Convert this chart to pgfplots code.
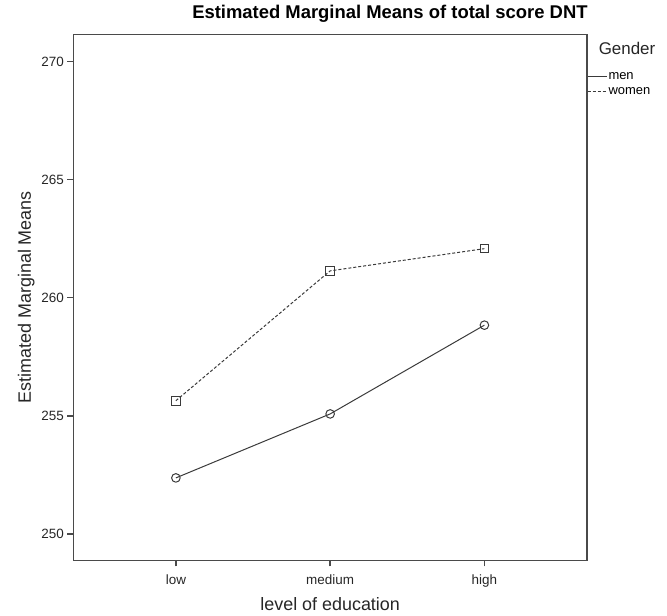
\documentclass[border=0pt]{standalone}
\usepackage{pgfplots}
\pgfplotsset{compat=1.18}
\usepackage{fontspec}
\setmainfont{Liberation Sans}
\definecolor{linec}{HTML}{3A3A3A}
\definecolor{framec}{HTML}{4A4A4A}
\begin{document}
\begin{tikzpicture}
\useasboundingbox (0bp,0bp) rectangle (667bp,616bp);
\begin{axis}[
  at={(73.3bp,55.7bp)}, anchor=south west,
  width=513.7bp, height=526bp, scale only axis,
  xmin=-0.665, xmax=2.665, ymin=248.88, ymax=271.16,
  xtick={0,1,2}, xticklabels={low,medium,high},
  ytick={250,255,260,265,270},
  tick align=outside, xtick pos=bottom, ytick pos=left,
  major tick length=6bp,
  axis line style={draw=framec, line width=1.5bp},
  tick style={draw=framec, line width=1.4bp},
  /pgf/number format/assume math mode=true,
  ticklabel style={font=\fontsize{13.5}{15}\selectfont, text=black!85},
  xticklabel style={yshift=-5bp},
  yticklabel style={xshift=0bp},
  title={\bfseries Estimated Marginal Means of total score DNT},
  title style={at={(axis description cs:1.008,1)}, anchor=south east, yshift=2bp, font=\fontsize{18.5}{20}\selectfont},
  xlabel={level of education},
  ylabel={Estimated Marginal Means},
  xlabel style={font=\fontsize{18}{20}\selectfont, text=black!85, yshift=-3bp},
  ylabel style={font=\fontsize{18}{20}\selectfont, text=black!85},
  legend style={at={(rel axis cs:1,0.93)}, anchor=north west, draw=none, fill=none,
    font=\fontsize{13}{14}\selectfont, inner sep=0pt, outer sep=0pt, row sep=3bp,
    nodes={inner sep=1.5bp}},
  legend cell align=left,
  legend image code/.code={\draw[#1] (0bp,0bp) -- (19bp,0bp);},
  clip=false,
]
\addplot[linec, line width=1bp, solid, mark=o, mark size=4.3bp, mark options={solid, line width=1bp}, forget plot]
  coordinates {(0,252.37) (1,255.08) (2,258.84)};
\addplot[linec, line width=1bp, dash pattern=on 3bp off 2bp, mark=square, mark size=4.3bp, mark options={solid, line width=1bp}, forget plot]
  coordinates {(0,255.64) (1,261.14) (2,262.08)};
\addlegendimage{linec, line width=1bp, solid}
\addlegendentry{men}
\addlegendimage{linec, line width=1bp, dash pattern=on 3bp off 2bp}
\addlegendentry{women}
\node[anchor=center, font=\fontsize{17}{19}\selectfont, text=black!85] at ([xshift=40bp, yshift=-14bp]rel axis cs:1,1) {Gender};
\end{axis}
\end{tikzpicture}
\end{document}
